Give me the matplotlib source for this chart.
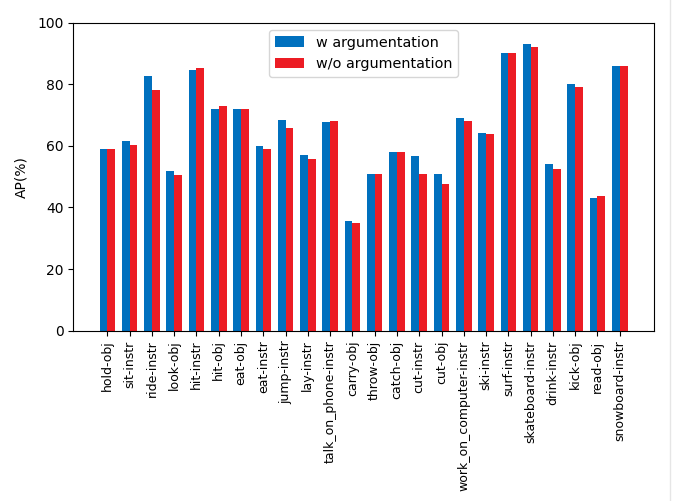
import matplotlib
matplotlib.use("Agg")
import matplotlib.pyplot as plt
from matplotlib.lines import Line2D
import numpy as np

categories = [
    "hold-obj", "sit-instr", "ride-instr", "look-obj", "hit-instr", "hit-obj",
    "eat-obj", "eat-instr", "jump-instr", "lay-instr", "talk_on_phone-instr",
    "carry-obj", "throw-obj", "catch-obj", "cut-instr", "cut-obj",
    "work_on_computer-instr", "ski-instr", "surf-instr", "skateboard-instr",
    "drink-instr", "kick-obj", "read-obj", "snowboard-instr",
]
ap_with = [58.8, 61.4, 82.8, 51.7, 84.5, 72.0, 72.0, 59.8, 68.3, 57.1, 67.6,
           35.5, 51.0, 58.1, 56.8, 51.0, 69.0, 64.2, 90.1, 93.1, 54.1, 80.2,
           43.1, 85.9]
ap_without = [58.8, 60.1, 78.2, 50.4, 85.2, 73.0, 72.0, 58.8, 65.9, 55.8, 67.9,
              35.0, 51.0, 58.1, 50.7, 47.7, 67.9, 63.8, 90.1, 92.0, 52.6, 79.1,
              43.6, 85.9]

x = np.arange(len(categories))
w = 0.35

fig = plt.figure(figsize=(6.84, 5.01), dpi=100)
ax = fig.add_axes([0.107, 0.340, 0.849, 0.615])
ax.bar(x - w / 2, ap_with, width=w, color="#0070BE", label="w argumentation")
ax.bar(x + w / 2, ap_without, width=w, color="#EC1C24", label="w/o argumentation")
ax.set_xticks(x)
ax.set_xticklabels(categories, rotation=90, fontsize=9)
ax.set_ylim(0, 100)
ax.set_ylabel("AP(%)", labelpad=6)
ax.legend(loc="upper center", fontsize=10.4)

# thin separator at the right edge of the figure
fig.add_artist(Line2D([0.979, 0.979], [0, 1], transform=fig.transFigure,
                      color="#e6e6e6", linewidth=1))

fig.savefig("out.png", dpi=100)
